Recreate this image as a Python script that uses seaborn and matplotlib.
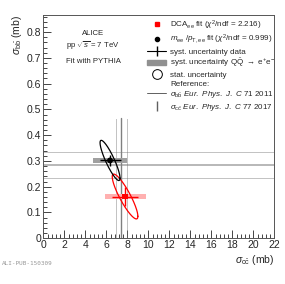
import matplotlib.pyplot as plt
import numpy as np
import pandas as pd
import seaborn as sns
from matplotlib.lines import Line2D
from matplotlib.patches import Patch, Rectangle
from matplotlib.ticker import MultipleLocator

# Resultats des deux fits (sigma_cc et sigma_bb en mb)
fits = ["DCA", "mpt"]
sigma_cc = [7.78, 6.35]
sigma_bb = [0.162, 0.302]
# incertitude stat. : demi-axes de l'ellipse + correlation
stat_cc = [1.22, 0.95]
stat_bb = [0.087, 0.078]
stat_rho = [-0.88, -0.88]
# incertitude syst. des donnees (croix)
syst_cc = [1.25, 1.0]
syst_bb = [0.038, 0.022]
# incertitude syst. QQ -> ee (boite)
qq_cc = [1.95, 1.65]
qq_bb = [0.008, 0.010]
fit_colors = ["#ff0000", "#000000"]
box_colors = ["#ffb0b0", "#a0a0a0"]

# References
ref_bb = 0.285
ref_bb_err = 0.05
ref_cc = 7.44
ref_cc_err = 0.56
ref_cc_top = 0.465

df = pd.DataFrame({"fit": fits, "cc": sigma_cc, "bb": sigma_bb})

sns.set_style("ticks")
plt.rcParams["font.family"] = ["Liberation Sans", "DejaVu Sans"]
plt.rcParams["mathtext.fontset"] = "custom"
plt.rcParams["mathtext.rm"] = "Liberation Sans"
plt.rcParams["mathtext.it"] = "Liberation Sans:italic"
plt.rcParams["mathtext.bf"] = "Liberation Sans:bold"

fig = plt.figure(figsize=(2.85, 2.84), dpi=100)
ax = fig.add_axes([0.152, 0.161, 0.811, 0.786])

# lignes de reference
ax.axhline(ref_bb, color="#b8b8b8", lw=1.4, zorder=1)
for s in (-1, 1):
    ax.axhline(ref_bb + s * ref_bb_err, color="#707070", lw=0.6, ls=(0, (1.2, 1.2)), zorder=1)
ax.plot([ref_cc, ref_cc], [0, ref_cc_top], color="#808080", lw=1.0, zorder=1)
for s in (-1, 1):
    x = ref_cc + s * ref_cc_err
    ax.plot([x, x], [0, ref_cc_top], color="#707070", lw=0.6, ls=(0, (1.2, 1.2)), zorder=1)

# boites syst. QQ
for i in range(len(fits)):
    ax.add_patch(Rectangle((sigma_cc[i] - qq_cc[i], sigma_bb[i] - qq_bb[i]),
                           2 * qq_cc[i], 2 * qq_bb[i], color=box_colors[i], lw=0, zorder=2))
    ax.errorbar(sigma_cc[i], sigma_bb[i], xerr=syst_cc[i], yerr=syst_bb[i],
                fmt="none", ecolor=fit_colors[i], elinewidth=1.0, capsize=0, zorder=3)

# ellipses stat.
t = np.linspace(0, 2 * np.pi, 200)
for i in range(len(fits)):
    rho = stat_rho[i]
    ex = sigma_cc[i] + stat_cc[i] * np.cos(t)
    ey = sigma_bb[i] + stat_bb[i] * (rho * np.cos(t) + np.sqrt(1 - rho ** 2) * np.sin(t))
    ax.plot(ex, ey, color=fit_colors[i], lw=0.9, zorder=4)

sns.scatterplot(data=df, x="cc", y="bb", hue="fit", style="fit",
                palette=dict(zip(fits, fit_colors)), markers={"DCA": "s", "mpt": "o"},
                s=18, linewidth=0, legend=False, zorder=5, ax=ax)

ax.set_xlim(0, 22)
ax.set_ylim(0, 0.866)
ax.xaxis.set_major_locator(MultipleLocator(2))
ax.xaxis.set_minor_locator(MultipleLocator(0.4))
ax.yaxis.set_major_locator(MultipleLocator(0.1))
ax.yaxis.set_minor_locator(MultipleLocator(0.02))
ax.yaxis.set_major_formatter(plt.FuncFormatter(lambda v, p: "0" if v == 0 else f"{v:.1f}"))
ax.tick_params(which="both", direction="in", top=False, right=False, labelsize=7.5, pad=1.5)
ax.tick_params(which="major", length=6, width=0.6)
ax.tick_params(which="minor", length=3, width=0.6)
for sp in ax.spines.values():
    sp.set_linewidth(0.7)
    sp.set_color("#555555")

ax.set_xlabel(r"$\sigma_{\rm c\bar{c}}$ (mb)", fontsize=7.5, loc="right", labelpad=2)
ax.set_ylabel(r"$\sigma_{\rm b\bar{b}}$ (mb)", fontsize=7.5, loc="top", labelpad=2)

ax.text(0.215, 0.91, "ALICE", transform=ax.transAxes, ha="center", fontsize=5.6)
ax.text(0.215, 0.853, r"pp $\sqrt{s}$ = 7 TeV", transform=ax.transAxes, ha="center", fontsize=5.6)
ax.text(0.215, 0.785, "Fit with PYTHIA", transform=ax.transAxes, ha="center", fontsize=5.6)

handles = [
    Line2D([], [], color="#ff0000", marker="s", ms=3, ls="none"),
    Line2D([], [], color="black", marker="o", ms=3, ls="none"),
    Line2D([], [], color="black", marker="|", ms=7, lw=0.8),
    Patch(color="#909090"),
    Line2D([], [], color="black", marker="o", ms=7, mfc="none", mew=0.7, ls="none"),
    Line2D([], [], ls="none"),
    Line2D([], [], color="#606060", lw=0.7),
    Line2D([], [], color="#606060", marker="|", ms=7, ls="none"),
]
labels = [
    r"DCA$_{\rm ee}$ fit ($\chi^{2}$/ndf = 2.216)",
    r"$m_{\rm ee}$ /$p_{\rm T,ee}$ fit ($\chi^{2}$/ndf = 0.999)",
    "syst. uncertainty data",
    r"syst. uncertainty Q$\bar{\rm Q}$ $\rightarrow$ e$^{+}$e$^{-}$",
    "stat. uncertainty",
    "Reference:",
    r"$\sigma_{\rm b\bar{b}}$ $\mathit{Eur.\ Phys.\ J.\ C}$ 71 2011",
    r"$\sigma_{\rm c\bar{c}}$ $\mathit{Eur.\ Phys.\ J.\ C}$ 77 2017",
]
ax.legend(handles, labels, loc="upper left", bbox_to_anchor=(0.45, 0.985), frameon=False,
          fontsize=5.8, handlelength=2.3, handletextpad=0.5, labelspacing=0.18, borderpad=0,
          borderaxespad=0)

fig.text(0.008, 0.068, "ALI-PUB-150309", fontsize=4.3, color="#999999", family="DejaVu Sans Mono")

plt.savefig("out.png", dpi=100)
